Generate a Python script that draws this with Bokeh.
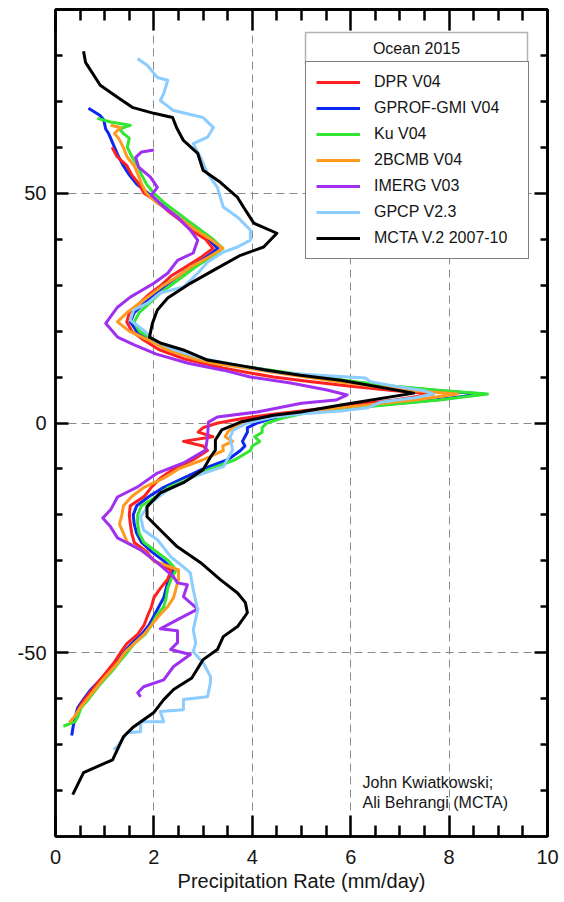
from math import pi
from bokeh.plotting import figure
from bokeh.models import (FixedTicker, LinearAxis, Legend, LegendItem, Label,
                          BoxAnnotation, Range1d)
from bokeh.embed import file_html
from bokeh.resources import INLINE

# ---------------- data (latitude in degrees, precipitation rate in mm/day) ----------------
dpr_lat = [60, 58, 56, 54, 52, 50, 48, 46, 44, 42, 40, 38, 36, 34, 32, 30, 28, 26, 24, 22, 20, 18, 16,
           14, 13, 12, 11, 10, 9, 8, 7, 6.3, 5, 4, 3, 2, 1, 0, -1, -2, -3, -4, -5, -6,
           -8, -10, -12, -14, -16, -18, -20, -22, -24, -26, -28, -30, -32, -34, -36, -38, -40,
           -42, -44, -46, -48, -50, -52, -54, -56, -58, -60, -62, -64]
dpr = [1.15, 1.25, 1.45, 1.55, 1.7, 1.8, 2.1, 2.3, 2.55, 2.75, 3.05, 3.2, 2.95, 2.65, 2.35, 2.15, 1.9, 1.7, 1.5, 1.45, 1.55, 1.8, 2.1,
       2.6, 3.0, 3.4, 3.9, 4.43, 5.2, 6.0, 6.9, 7.68, 6.9, 6.1, 5.3, 4.5, 3.8, 3.3, 3.0, 2.9, 3.2, 2.6, 3.0, 3.09,
       2.8, 2.4, 2.13, 1.95, 1.8, 1.52, 1.5, 1.52, 1.55, 1.6, 1.85, 2.0, 2.35, 2.28, 2.13, 2.0, 1.95,
       1.87, 1.8, 1.67, 1.45, 1.32, 1.2, 1.05, 0.9, 0.75, 0.6, 0.48, 0.4]

gprof_lat = [68.5, 67, 66, 65, 64, 63, 62,
             60, 58, 56, 54, 52, 50, 48, 46, 44, 42, 40, 38, 36, 34, 32, 30, 28, 26, 24, 22, 20, 18, 16,
             14, 13, 12, 11, 10, 9, 8, 7, 6.3, 5, 4, 3, 2, 1, 0, -1, -2, -3, -4, -5, -6,
             -8, -10, -12, -14, -16, -18, -20, -22, -24, -26, -28, -30, -32, -34, -36, -38, -40,
             -42, -44, -46, -48, -50, -52, -54, -56, -58, -60, -62, -64, -66, -68]
gprof = [0.67, 0.9, 0.98, 1.0, 1.02, 1.08, 1.12,
         1.2, 1.28, 1.38, 1.5, 1.65, 1.88, 2.1, 2.35, 2.6, 2.85, 3.1, 3.3, 3.05, 2.75, 2.5, 2.25, 2.0, 1.8, 1.6, 1.52, 1.65, 1.95, 2.3,
         2.9, 3.3, 4.0, 4.6, 5.3, 6.0, 6.8, 7.8, 8.7, 7.7, 6.7, 5.7, 4.9, 4.4, 4.1, 3.9, 3.9, 3.85, 3.8, 3.85, 3.76,
         3.5, 3.0, 2.6, 2.2, 1.9, 1.65, 1.58, 1.6, 1.65, 1.75, 1.95, 2.2, 2.4, 2.3, 2.25, 2.2, 2.1,
         2.0, 1.9, 1.75, 1.55, 1.38, 1.22, 1.08, 0.9, 0.72, 0.58, 0.45, 0.4, 0.36, 0.33]

ku_lat = [66.3, 65.5, 64.8, 64, 63, 62,
          60, 58, 56, 54, 52, 50, 48, 46, 44, 42, 40, 38, 36, 34, 32, 30, 28, 26, 24, 22, 20, 18, 16,
          14, 13, 12, 11, 10, 9, 8, 7, 6.3, 5, 4, 3, 2, 1, 0, -1, -2, -3, -4, -5, -6,
          -8, -10, -12, -14, -16, -18, -20, -22, -24, -26, -28, -30, -32, -34, -36, -38, -40,
          -42, -44, -46, -48, -50, -52, -54, -56, -58, -60, -62, -64, -65, -66]
ku = [0.85, 1.12, 1.52, 1.3, 1.38, 1.5,
      1.46, 1.55, 1.67, 1.75, 1.85, 2.0, 2.2, 2.45, 2.7, 2.95, 3.2, 3.4, 3.15, 2.85, 2.6, 2.35, 2.1, 1.9, 1.7, 1.6, 1.7, 2.0, 2.35,
      2.95, 3.35, 4.05, 4.7, 5.4, 6.1, 6.9, 7.9, 8.78, 7.8, 6.8, 5.8, 5.0, 4.6, 4.3, 4.2, 4.2, 4.05, 4.15, 4.0, 3.96,
      3.65, 3.15, 2.74, 2.3, 2.05, 1.75, 1.67, 1.67, 1.7, 1.8, 2.05, 2.3, 2.45, 2.35, 2.28, 2.25, 2.2,
      2.05, 1.95, 1.82, 1.6, 1.45, 1.3, 1.15, 0.98, 0.82, 0.68, 0.52, 0.45, 0.4, 0.16]

cmb_lat = [64.8, 64.3, 63, 62,
           60, 58, 56, 54, 52, 50, 48, 46, 44, 42, 40, 38, 36, 34, 32, 30, 28, 26, 24, 22, 20, 18, 16,
           14, 13, 12, 11, 10, 9, 8, 7, 6.3, 5, 4, 3, 2, 1, 0, -1, -2, -3, -4, -5, -6,
           -8, -10, -12, -14, -16, -18, -20, -22, -24, -26, -28, -30, -32, -34, -36, -38, -40,
           -42, -44, -46, -48, -50, -52, -54, -56, -58, -60, -62, -64, -65.2]
cmb = [1.12, 1.32, 1.2, 1.28,
       1.38, 1.45, 1.6, 1.68, 1.75, 1.85, 2.05, 2.35, 2.6, 2.85, 3.15, 3.4, 3.1, 2.75, 2.5, 2.2, 1.95, 1.7, 1.45, 1.26, 1.5, 1.9, 2.25,
       2.8, 3.2, 3.85, 4.45, 5.1, 5.75, 6.45, 7.3, 8.17, 7.3, 6.4, 5.5, 4.7, 4.2, 3.8, 3.6, 3.5, 3.45, 3.6, 3.4, 3.41,
       3.0, 2.5, 2.2, 1.8, 1.55, 1.38, 1.35, 1.3, 1.38, 1.46, 1.8, 2.0, 2.5, 2.5, 2.45, 2.4, 2.28,
       2.1, 1.95, 1.8, 1.6, 1.4, 1.28, 1.12, 0.95, 0.8, 0.65, 0.5, 0.38, 0.28]

imerg_lat = [59.4, 59.0, 57.8, 55.7, 53.5, 51.3, 49.6, 47.0, 44.8, 42.0,
             39.8, 37.0, 35.4, 32.6, 30.4, 27.4, 25.2, 21.7, 18.7, 17.0,
             15.0, 13.0, 11.5, 10.0, 8.7, 7.2, 6.1, 5.0, 4.3, 2.4,
             1.3, 0.2, -3.0, -5.9, -8.7, -10.9, -13.9, -16.1, -18.9, -20.7,
             -22.6, -25.0, -27.6, -30.4, -33.5, -34.8, -35.2, -37.8, -40.5, -42.8,
             -44.8, -45.2, -47.8, -49.3, -50.4, -53.0, -55.9, -57.4, -58.7, -59.6]
imerg = [2.0, 1.75, 1.63, 1.69, 1.93, 2.07, 1.95, 2.2, 2.48, 2.74,
         2.89, 2.8, 2.48, 2.28, 2.0, 1.52, 1.26, 1.02, 1.26, 1.6,
         2.05, 2.7, 3.41, 3.96, 4.78, 5.52, 5.93, 5.7, 5.0, 4.1,
         3.29, 3.11, 3.09, 3.05, 2.6, 2.07, 1.67, 1.26, 1.12, 0.96,
         1.12, 1.26, 1.73, 2.07, 2.4, 2.48, 2.68, 2.6, 2.89, 2.48,
         2.13, 2.48, 2.48, 2.34, 2.74, 2.4, 2.2, 1.79, 1.67, 1.73]

gpcp_lat = [79.3, 77.8, 75.2, 74.6, 71.7, 70.2, 68.0, 66.5, 64.3, 62.2, 60.8, 57.8, 54.3, 51.3, 49.1,
            47.0, 44.8, 42.0, 39.8, 38.3, 37.2, 35.0, 32.6, 29.6, 28.3, 26.1, 24.6, 22.4, 20.2, 18.0,
            16.0, 14.0, 13.0, 12.0, 11.0, 10.5, 9.8, 9.0, 8.0, 7.0, 6.3, 5.5, 4.5, 3.3, 2.6, 2.0, 1.3,
            0.0, -1.5, -3.0, -5.9, -9.5, -11.7, -14.6, -17.4, -20.4, -23.3, -25.4, -29.1, -31.3, -32.6,
            -36.3, -40.7, -45.0, -47.8, -49.8, -52.2, -55.2, -56.5, -59.6, -60.2, -62.4, -62.8, -65.0,
            -65.0, -67.2, -67.4, -70.4, -71.1]
gpcp = [1.67, 1.87, 2.07, 2.28, 2.2, 2.13, 2.4, 3.0, 3.21, 3.09, 2.8, 2.95, 3.09, 3.29, 3.35,
        3.41, 3.7, 3.96, 3.96, 3.7, 3.41, 3.09, 2.89, 2.6, 2.13, 1.87, 1.59, 1.52, 1.79, 2.0,
        2.4, 3.0, 3.5, 4.0, 4.55, 5.2, 6.3, 6.4, 6.9, 7.5, 7.68, 7.3, 6.6, 6.34, 5.8, 5.0, 4.43,
        3.9, 3.62, 3.55, 3.6, 3.41, 2.8, 2.28, 1.93, 1.73, 1.79, 2.07, 2.34, 2.6, 2.74,
        2.8, 2.89, 2.8, 2.85, 2.8, 3.0, 3.15, 3.15, 3.09, 2.6, 2.6, 2.13, 2.2,
        1.73, 1.73, 1.46, 1.26, 1.18]

mcta_lat = [80.9, 78.5, 73.5, 70.9, 68.7, 67.4, 66.5, 64.3, 61.5, 58.7,
            55.0, 52.4, 49.1, 47.0, 43.5, 41.3, 38.3, 36.5, 33.7, 30.4,
            27.2, 24.6, 21.7, 18.7, 17.4, 15.9, 13.7, 12.6, 11.5, 10.4,
            9.3, 6.5, 3.9, 2.4, 1.7, 0.2, -1.5, -3.7, -5.9, -7.4,
            -10.2, -13.0, -15.2, -18.2, -20.4, -23.3, -26.9, -30.4, -34.1, -37.0,
            -39.1, -41.3, -44.3, -46.5, -49.3, -51.5, -55.5, -58.0, -60.2, -63.0,
            -66.1, -68.3, -73.3, -76.1, -80.9]
mcta = [0.57, 0.61, 0.91, 1.26, 1.56, 2.0, 2.38, 2.46, 2.6, 2.89,
        3.0, 3.35, 3.7, 3.82, 4.03, 4.5, 4.23, 3.76, 3.29, 2.74,
        2.28, 2.07, 1.97, 1.91, 2.13, 2.6, 3.09, 3.7, 4.3, 4.98,
        5.8, 7.28, 5.8, 4.98, 4.43, 3.76, 3.38, 3.25, 3.25, 3.15,
        3.0, 2.6, 2.13, 1.86, 1.86, 2.13, 2.47, 2.95, 3.35, 3.7,
        3.86, 3.9, 3.7, 3.41, 3.29, 3.0, 2.77, 2.4, 2.2, 2.0,
        1.59, 1.38, 1.16, 0.57, 0.35]

series_names = ["DPR V04", "GPROF-GMI V04", "Ku V04", "2BCMB V04", "IMERG V03", "GPCP V2.3", "MCTA V.2 2007-10"]
x_major = [0, 2, 4, 6, 8, 10]
x_minor = [0.5, 1, 1.5, 2.5, 3, 3.5, 4.5, 5, 5.5, 6.5, 7, 7.5, 8.5, 9, 9.5]
y_major = [-50, 0, 50]
y_major_labels = {-50: "-50", 0: "0", 50: "50"}
y_minor = [-80, -70, -60, -40, -30, -20, -10, 10, 20, 30, 40, 60, 70, 80]
x_grid = [2, 4, 6, 8]
legend_title = "Ocean 2015"
credit_lines = ["John Kwiatkowski;", "Ali Behrangi (MCTA)"]

# ---------------- styles / layout ----------------
FONT = "Liberation Sans"
TXT = "#151515"
colors = ["#ff2020", "#0a28f0", "#33e633", "#ff9a1f", "#a030f0", "#8cccff", "#000000"]

FR_L, FR_T, FR_W, FR_H = 55, 9, 492, 828   # frame geometry in canvas pixels
W, H = 560, 894


def dx(px):  # canvas x pixel -> data x
    return (px - FR_L) / FR_W * 10.0


def dy(py):  # canvas y pixel -> data y
    return 90.0 - (py - FR_T) / FR_H * 180.0


p = figure(width=W, height=H, x_range=Range1d(0, 10), y_range=Range1d(-90, 90),
           output_backend="svg", toolbar_location=None,
           min_border_left=FR_L, min_border_right=W - FR_L - FR_W,
           min_border_top=FR_T, min_border_bottom=H - FR_T - FR_H,
           background_fill_color="white", border_fill_color="white")
p.outline_line_color = "black"
p.outline_line_width = 2.5

# grid
p.xgrid[0].ticker = FixedTicker(ticks=x_grid)
p.ygrid[0].ticker = FixedTicker(ticks=y_major)
for g in (p.xgrid[0], p.ygrid[0]):
    g.grid_line_color = "#8a8a8a"
    g.grid_line_width = 1
    g.grid_line_dash = "8 5"


def style_ticks(ax, major_in, minor_in):
    ax.major_tick_in = major_in
    ax.major_tick_out = 0
    ax.minor_tick_in = minor_in
    ax.minor_tick_out = 0
    ax.major_tick_line_width = 2.5
    ax.minor_tick_line_width = 2.5
    ax.major_tick_line_color = "black"
    ax.minor_tick_line_color = "black"
    ax.axis_line_width = 2.5
    ax.axis_line_color = "black"


xa = p.xaxis[0]
xa.ticker = FixedTicker(ticks=x_major, minor_ticks=x_minor)
style_ticks(xa, 21, 11)
xa.major_label_text_font = FONT
xa.major_label_text_font_size = "20px"
xa.major_label_text_color = TXT
xa.major_label_standoff = 13
xa.axis_label = "Precipitation Rate (mm/day)"
xa.axis_label_text_font = FONT
xa.axis_label_text_font_size = "20px"
xa.axis_label_text_font_style = "normal"
xa.axis_label_text_color = TXT
xa.axis_label_standoff = 3

ya = p.yaxis[0]
ya.ticker = FixedTicker(ticks=y_major, minor_ticks=y_minor)
style_ticks(ya, 13, 7)
ya.major_label_text_font = FONT
ya.major_label_text_font_size = "20px"
ya.major_label_text_color = TXT
ya.major_label_standoff = 9
ya.major_label_overrides = y_major_labels

# mirrored ticks on top / right: label-free axes carrying only "minor" ticks
for side, ticks, length in (("above", x_minor, 11), ("above", x_major, 21),
                            ("right", y_minor, 7), ("right", y_major, 13)):
    ax = LinearAxis(ticker=FixedTicker(ticks=[], minor_ticks=ticks))
    style_ticks(ax, 0, length)
    ax.major_label_standoff = 0
    ax.axis_label_standoff = 0
    p.add_layout(ax, side)

# lines (draw order), legend order kept separately
data = [(dpr, dpr_lat), (gprof, gprof_lat), (ku, ku_lat), (cmb, cmb_lat),
        (imerg, imerg_lat), (gpcp, gpcp_lat), (mcta, mcta_lat)]
draw_order = [1, 0, 2, 3, 4, 5, 6]
renderers = {}
for i in draw_order:
    xs, ys = data[i]
    renderers[i] = p.line(xs, ys, line_color=colors[i], line_width=3, line_join="round")

legend = Legend(items=[LegendItem(label=series_names[i], renderers=[renderers[i]]) for i in range(7)],
                location=(305 - FR_L, (FR_T + FR_H) - 260))
legend.border_line_color = "black"
legend.border_line_width = 1.5
legend.background_fill_color = "white"
legend.background_fill_alpha = 1.0
legend.padding = 10
legend.spacing = 6
legend.margin = 0
legend.label_height = 20
legend.glyph_height = 20
legend.glyph_width = 44
legend.label_standoff = 14
legend.label_width = 144
legend.label_text_font = FONT
legend.label_text_font_size = "16px"
legend.label_text_color = TXT
legend.label_text_baseline = "middle"
p.add_layout(legend, "center")

title_box = BoxAnnotation(left=dx(305), right=dx(527), top=dy(32), bottom=dy(64),
                          fill_color="white", fill_alpha=1.0, line_color="black", line_width=1.5)
p.add_layout(title_box)
p.add_layout(Label(x=dx(416), y=dy(48), text=legend_title, text_align="center",
                   text_baseline="middle", text_font=FONT, text_font_size="16px", text_color=TXT))

# y axis title
p.add_layout(Label(x=dx(22), y=dy(425), text="Latitude", angle=pi / 2, text_align="center",
                   text_baseline="middle", text_font=FONT, text_font_size="20px", text_color=TXT))

# credits
for k, line in enumerate(credit_lines):
    p.add_layout(Label(x=dx(362), y=dy(783 + 20 * k), text=line, text_align="left",
                       text_baseline="alphabetic", text_font=FONT, text_font_size="16px",
                       text_color=TXT))

open("out.html", "w").write(file_html(p, INLINE))
